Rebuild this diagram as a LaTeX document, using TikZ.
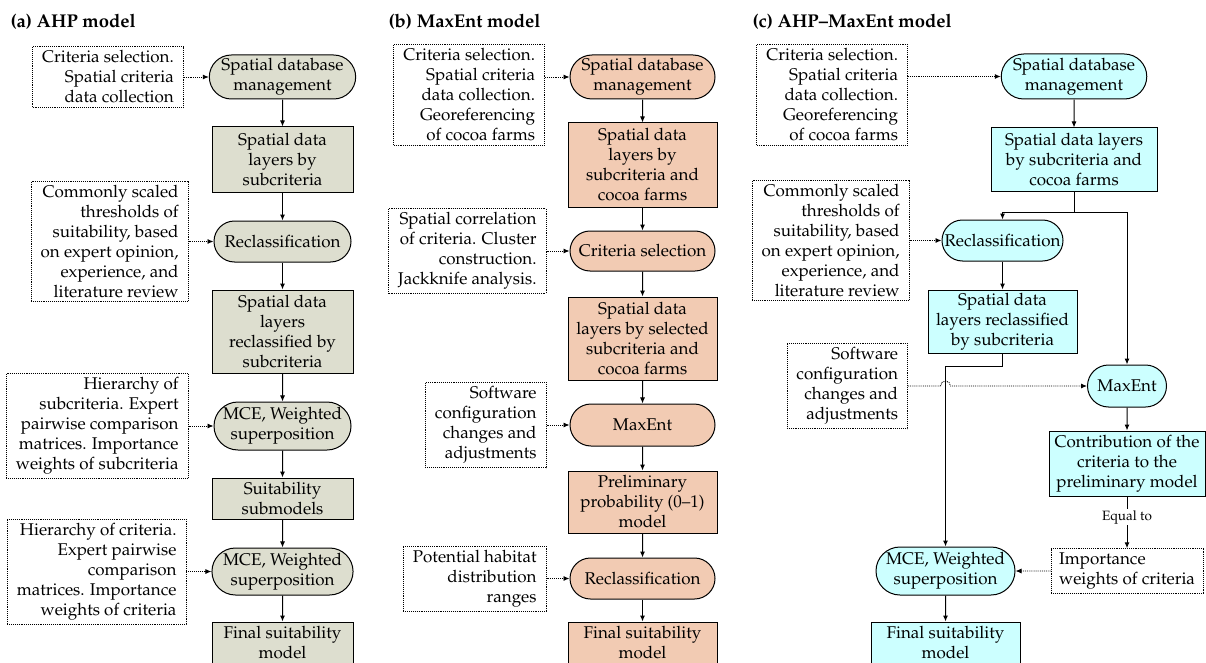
\documentclass[tikz,border=0pt]{standalone}
\usepackage[T1]{fontenc}
\usepackage{mathpazo}
\usetikzlibrary{positioning,shapes.misc,arrows.meta}
\definecolor{ahpgreen}{HTML}{DDDECF}
\definecolor{mxpeach}{HTML}{F2CBB3}
\definecolor{hybcyan}{HTML}{CCFFFF}

\begin{document}
\begin{tikzpicture}[
		x=1pt, y=-1pt,						% Pixelraster, y nach unten
		>={Latex[length=6pt,width=5pt]},	% Standardpfeilspitzen
		line width=1pt,
		font=\fontsize{17}{20}\selectfont,	% Schrift der Knoten
		oval/.style={draw, rounded rectangle, align=center, inner sep=2pt},
		box/.style={draw, rectangle, align=center, inner sep=2pt},
		note/.style={draw, densely dotted, line width=0.9pt, align=right, inner xsep=9.5pt, inner ysep=4pt},
		title/.style={anchor=base west, inner sep=0pt, font=\fontsize{18.5}{22}\selectfont\bfseries},
		flow/.style={->},
		feed/.style={->, densely dotted, line width=0.9pt},
		ahp/.style={fill=ahpgreen, minimum width=141pt},
		mx/.style={fill=mxpeach, minimum width=149pt},
		hyb/.style={fill=hybcyan}
	]
	\useasboundingbox (0,0) rectangle (1206,663);

	% (a) AHP
	\node[title] (aTitle) at (10,28) {(a) AHP model};
	\node[oval, ahp, minimum height=44pt] (aDb) at (282.5,77) {Spatial database\\management};
	\node[box, ahp, minimum height=65pt] (aLay) at (282.5,159.5) {Spatial data\\layers by\\subcriteria};
	\node[oval, ahp, minimum height=41pt] (aRec) at (282.5,241.5) {Reclassification};
	\node[box, ahp, minimum height=83pt] (aLayR) at (282.5,331.5) {Spatial data\\layers\\reclassified by\\subcriteria};
	\node[oval, ahp, minimum height=48pt] (aMceA) at (282.5,426) {MCE, Weighted\\superposition};
	\node[box, ahp, minimum height=41pt] (aSub) at (282.5,498.5) {Suitability\\submodels};
	\node[oval, ahp, minimum height=47pt] (aMceB) at (282.5,571.5) {MCE, Weighted\\superposition};
	\node[box, ahp, minimum height=42pt] (aFin) at (282.5,643) {Final suitability\\model};

	\node[note, left=25pt of aDb] (aNoteA) {Criteria selection.\\Spatial criteria\\data collection};
	\node[note, left=25pt of aRec] (aNoteB) {Commonly scaled\\thresholds of\\suitability, based\\on expert opinion,\\experience, and\\literature review};
	\node[note, left=25pt of aMceA] (aNoteC) {Hierarchy of\\subcriteria. Expert\\pairwise comparison\\matrices. Importance\\weights of subcriteria};
	\node[note, left=25pt of aMceB] (aNoteD) {Hierarchy of criteria.\\Expert pairwise\\comparison\\matrices. Importance\\weights of criteria};

	\draw[flow] (aDb) -- (aLay);
	\draw[flow] (aLay) -- (aRec);
	\draw[flow] (aRec) -- (aLayR);
	\draw[flow] (aLayR) -- (aMceA);
	\draw[flow] (aMceA) -- (aSub);
	\draw[flow] (aSub) -- (aMceB);
	\draw[flow] (aMceB) -- (aFin);
	\draw[feed] (aNoteA) -- (aDb);
	\draw[feed] (aNoteB) -- (aRec);
	\draw[feed] (aNoteC) -- (aMceA);
	\draw[feed] (aNoteD) -- (aMceB);

	% (b) MaxEnt
	\node[title] (bTitle) at (388,28) {(b) MaxEnt model};
	\node[oval, mx, minimum height=44pt] (bDb) at (642.5,77) {Spatial database\\management};
	\node[box, mx, minimum height=84pt] (bLay) at (642.5,165) {Spatial data\\layers by\\subcriteria and\\cocoa farms};
	\node[oval, mx, minimum height=40pt] (bSel) at (642.5,251) {Criteria selection};
	\node[box, mx, minimum height=83pt] (bLaySel) at (642.5,338.5) {Spatial data\\layers by selected\\subcriteria and\\cocoa farms};
	\node[oval, mx, minimum height=42pt] (bMx) at (642.5,425) {MaxEnt};
	\node[box, mx, minimum height=62pt] (bPre) at (642.5,502) {Preliminary\\probability (0--1)\\model};
	\node[oval, mx, minimum height=41pt] (bRec) at (642.5,578.5) {Reclassification};
	\node[box, mx, minimum height=42pt] (bFin) at (642.5,643) {Final suitability\\model};

	\node[note, anchor=north east] (bNoteA) at (545,44) {Criteria selection.\\Spatial criteria\\data collection.\\Georeferencing\\of cocoa farms};
	\node[note, left=23pt of bSel] (bNoteB) {Spatial correlation\\of criteria. Cluster\\construction.\\Jackknife analysis.};
	\node[note, left=23pt of bMx] (bNoteC) {Software\\configuration\\changes and\\adjustments};
	\node[note, left=23pt of bRec] (bNoteD) {Potential habitat\\distribution\\ranges};

	\draw[flow] (bDb) -- (bLay);
	\draw[flow] (bLay) -- (bSel);
	\draw[flow] (bSel) -- (bLaySel);
	\draw[flow] (bLaySel) -- (bMx);
	\draw[flow] (bMx) -- (bPre);
	\draw[flow] (bPre) -- (bRec);
	\draw[flow] (bRec) -- (bFin);
	\draw[feed] (bNoteA.east |- bDb.west) -- (bDb.west);
	\draw[feed] (bNoteB) -- (bSel);
	\draw[feed] (bNoteC) -- (bMx);
	\draw[feed] (bNoteD) -- (bRec);

	% (c) AHP-MaxEnt
	\node[title] (cTitle) at (752,28) {(c) AHP--MaxEnt model};
	\node[oval, hyb, minimum width=145pt, minimum height=45pt] (cDb) at (1074,76.5) {Spatial database\\management};
	\node[box, hyb, minimum width=166pt, minimum height=63pt] (cLay) at (1074,159.5) {Spatial data layers\\by subcriteria and\\cocoa farms};
	\node[oval, hyb, minimum width=125pt, minimum height=41pt] (cRec) at (1002.5,240.5) {Reclassification};
	\node[box, hyb, minimum width=149pt, minimum height=63pt] (cLayR) at (1002.5,321.5) {Spatial data\\layers reclassified\\by subcriteria};
	\node[oval, hyb, minimum width=83pt, minimum height=42pt] (cMx) at (1127,386) {MaxEnt};
	\node[box, hyb, minimum width=156pt, minimum height=65pt] (cCon) at (1127,463.5) {Contribution of the\\criteria to the\\preliminary model};
	\node[note, align=left, minimum width=152pt, minimum height=43pt, inner xsep=6pt] (cImp) at (1127,571) {Importance\\weights of criteria};
	\node[oval, hyb, minimum width=143pt, minimum height=48pt] (cMce) at (945.5,571) {MCE, Weighted\\superposition};
	\node[box, hyb, minimum width=149pt, minimum height=42pt] (cFin) at (945.5,643) {Final suitability\\model};

	\node[note, anchor=north east] (cNoteA) at (908,44) {Criteria selection.\\Spatial criteria\\data collection.\\Georeferencing\\of cocoa farms};
	\node[note, left=32pt of cRec] (cNoteB) {Commonly scaled\\thresholds of\\suitability, based\\on expert opinion,\\experience, and\\literature review};
	\node[note, anchor=east] (cNoteC) at (908,386) {Software\\configuration\\changes and\\adjustments};

	\draw[flow] (cDb) -- (cLay);
	\draw[flow] (cLay.south) -- ++(0,21) -| (cRec.north);
	\draw[flow] (cLay.south) -- ++(0,21) -| (cMx.north);
	\draw[flow] (cRec) -- (cLayR);
	\draw[flow] (cLayR.south) -- ++(0,13) -| (cMce.north);
	\draw[flow] (cMx) -- (cCon);
	\draw[flow] (cCon) -- node[pos=0.4, fill=white, inner sep=1pt, font=\fontsize{13.5}{15}\selectfont] {Equal to} (cImp);
	\draw[flow] (cMce) -- (cFin);
	\draw[feed] (cNoteA.east |- cDb.west) -- (cDb.west);
	\draw[feed] (cNoteB) -- (cRec);
	% Sprung ueber die Linie
	\coordinate (cHop) at (cNoteC.east -| cMce.north);
	\draw[feed] (cNoteC.east) -- ([xshift=-5pt]cHop) arc[start angle=180, end angle=0, radius=5pt] -- (cMx.west);
	\draw[feed] (cImp) -- (cMce);

\end{tikzpicture}
\end{document}
